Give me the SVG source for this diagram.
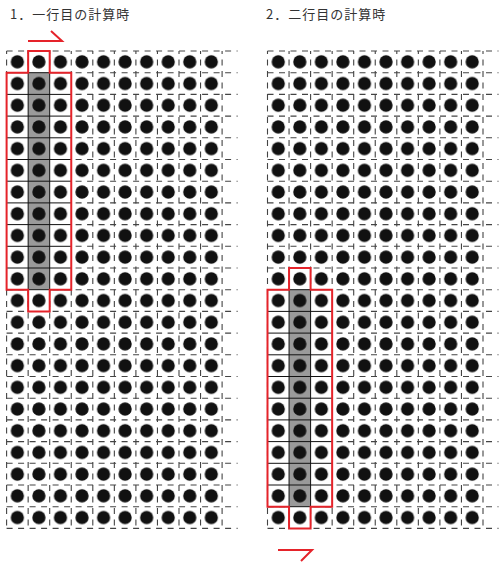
<svg xmlns="http://www.w3.org/2000/svg" xmlns:xlink="http://www.w3.org/1999/xlink" width="503" height="562" viewBox="0 0 503 562">
<style>
.title{font-family:"Noto Sans CJK JP","Noto Sans",sans-serif;font-size:13px;letter-spacing:1px;fill:#333}
.dash{fill:none;stroke:#444;stroke-width:1.1;stroke-dasharray:6 5.5}
.dashv{fill:none;stroke:#444;stroke-width:1.1;stroke-dasharray:6 5.5;stroke-dashoffset:3}
.solid{fill:none;stroke:#111;stroke-width:1}
.frame{fill:none;stroke:#e5232a;stroke-width:2}
.blank{fill:#fff}
.hl{fill:#9a9a9a}
.arrow{fill:none;stroke:#e5232a;stroke-width:2}
</style>
<defs>
<pattern id="dots" patternUnits="userSpaceOnUse" x="0" y="0" width="21.55" height="21.7">
<circle cx="10.775" cy="10.85" r="6.6" fill="#111"/>
</pattern>
<g id="dashgrid">
<path class="dash" d="M0 0h231M0 21.7h231M0 43.4h231M0 65.1h231M0 86.8h231M0 108.5h231M0 130.2h231M0 151.9h231M0 173.6h231M0 195.3h231M0 217h231M0 238.7h231M0 260.4h231M0 282.1h231M0 303.8h231M0 325.5h231M0 347.2h231M0 368.9h231M0 390.6h231M0 412.3h231M0 434h231M0 455.7h231M0 477.4h231"/>
<path class="dashv" d="M0 0v477.4M21.55 0v477.4M43.1 0v477.4M64.65 0v477.4M86.2 0v477.4M107.75 0v477.4M129.3 0v477.4M150.85 0v477.4M172.4 0v477.4M193.95 0v477.4M215.5 0v477.4"/>
</g>
</defs>
<g id="title1"><text class="title" x="10" y="19">1．一行目の計算時</text></g>
<g id="title2"><text class="title" x="266" y="19">2．二行目の計算時</text></g>
<g id="grid1" transform="translate(6.6 51)">
<use xlink:href="#dashgrid"/>
<path class="blank" d="M21.55 0H43.1V21.7H64.65V238.7H43.1V260.4H21.55V238.7H0V21.7H21.55Z"/>
<rect class="hl" x="21.55" y="21.7" width="21.55" height="217"/>
<path class="solid" d="M21.55 21.7V238.7M43.1 21.7V238.7M0 21.7h64.65M0 43.4h64.65M0 65.1h64.65M0 86.8h64.65M0 108.5h64.65M0 130.2h64.65M0 151.9h64.65M0 173.6h64.65M0 195.3h64.65M0 217h64.65M0 238.7h64.65"/>
<rect x="0" y="0" width="215.5" height="477.4" fill="url(#dots)"/>
<path class="frame" d="M21.55 0H43.1V21.7H64.65V238.7H43.1V260.4H21.55V238.7H0V21.7H21.55Z"/>
</g>
<g id="grid2" transform="translate(267.5 51)">
<use xlink:href="#dashgrid"/>
<path class="blank" d="M21.55 217H43.1V238.7H64.65V455.7H43.1V477.4H21.55V455.7H0V238.7H21.55Z"/>
<rect class="hl" x="21.55" y="238.7" width="21.55" height="217"/>
<path class="solid" d="M21.55 238.7V455.7M43.1 238.7V455.7M0 238.7h64.65M0 260.4h64.65M0 282.1h64.65M0 303.8h64.65M0 325.5h64.65M0 347.2h64.65M0 368.9h64.65M0 390.6h64.65M0 412.3h64.65M0 434h64.65M0 455.7h64.65"/>
<rect x="0" y="0" width="215.5" height="477.4" fill="url(#dots)"/>
<path class="frame" d="M21.55 217H43.1V238.7H64.65V455.7H43.1V477.4H21.55V455.7H0V238.7H21.55Z"/>
</g>
<g id="connectors">
<path class="arrow" d="M28 41H62L51 31"/>
<path class="arrow" d="M278 550H312L301 561"/>
</g>
</svg>
